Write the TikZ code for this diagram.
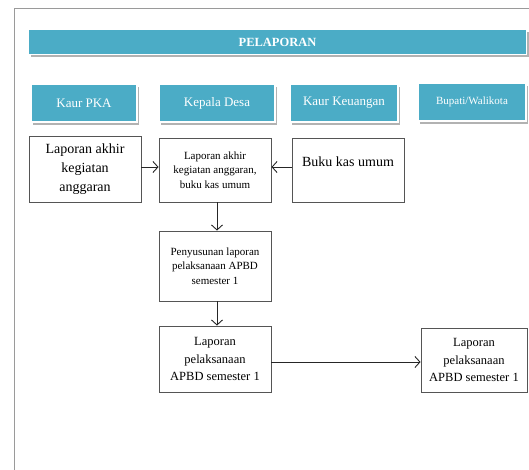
\documentclass[tikz,border=0pt]{standalone}
\usepackage{fontspec}
\setmainfont{Liberation Serif}
\usetikzlibrary{arrows.meta,shadows}
\definecolor{teal}{HTML}{4BACC6}
\definecolor{framegray}{HTML}{9A9A9A}
\definecolor{boxgray}{HTML}{555555}
\tikzset{
  hdr/.style={fill=teal, draw=white, line width=1.2pt, text=white, align=center,
    inner sep=0pt, minimum height=38pt,
    drop shadow={fill=black, opacity=0.3, shadow xshift=2pt, shadow yshift=-3pt}},
  stepbox/.style={draw=boxgray, line width=0.9pt, align=center, inner sep=2pt, fill=white},
  conn/.style={draw=black!85, line width=0.9pt, -{Straight Barb[length=5pt,width=11pt]}},
}
\begin{document}
\begin{tikzpicture}[x=1pt,y=-1pt]
\useasboundingbox (0,0) rectangle (529,470);
\clip (0,0) rectangle (529,470);
% frame
\draw[framegray, line width=1pt] (540,9) -- (14,9) -- (14,480);
% title bar
\node[hdr, minimum width=498pt, minimum height=25pt, font=\bfseries\fontsize{12.5}{14}\selectfont] (title) at (277.5,42) {PELAPORAN};
% headers
\node[hdr, minimum width=106pt, font=\fontsize{13}{15}\selectfont] (h1) at (84,103) {Kaur PKA};
\node[hdr, minimum width=116pt, font=\fontsize{13}{15}\selectfont] (h2) at (217,103) {Kepala Desa};
\node[hdr, minimum width=108pt, font=\fontsize{13}{15}\selectfont] (h3) at (344,103) {Kaur Keuangan};
\node[hdr, minimum width=108pt, font=\fontsize{11}{13}\selectfont] (h4) at (472,102) {Bupati/Walikota};
% step boxes
\node[stepbox, minimum width=112pt, minimum height=66pt, font=\fontsize{14}{19}\selectfont] (b1) at (85,169) {Laporan akhir\\kegiatan\\anggaran};
\node[stepbox, minimum width=112pt, minimum height=64pt, font=\fontsize{11}{14.5}\selectfont] (b2) at (215,170) {Laporan akhir\\kegiatan anggaran,\\buku kas umum};
\node[stepbox, minimum width=112pt, text height=27pt, text depth=33pt, font=\fontsize{14}{19}\selectfont] (b3) at (348,170) {Buku kas umum};
\node[stepbox, minimum width=112pt, minimum height=70pt, font=\fontsize{11}{14.5}\selectfont] (b4) at (215,266) {Penyusunan laporan\\pelaksanaan APBD\\semester 1};
\node[stepbox, minimum width=112pt, minimum height=66pt, font=\fontsize{12.5}{17.5}\selectfont] (b5) at (215,359) {Laporan\\pelaksanaan\\APBD semester 1};
\node[stepbox, minimum width=106pt, minimum height=64pt, font=\fontsize{12.5}{17.5}\selectfont] (b6) at (474,360) {Laporan\\pelaksanaan\\APBD semester 1};
% connectors
\draw[conn] (b1.east |- 0,167) -- (b2.west |- 0,167);
\draw[conn] (b3.west |- 0,167) -- (b2.east |- 0,167);
\draw[conn] (b2.south -| 217,0) -- (b4.north -| 217,0);
\draw[conn] (b4.south -| 217,0) -- (b5.north -| 217,0);
\draw[conn] (b5.east |- 0,362) -- (b6.west |- 0,362);
\end{tikzpicture}
\end{document}
